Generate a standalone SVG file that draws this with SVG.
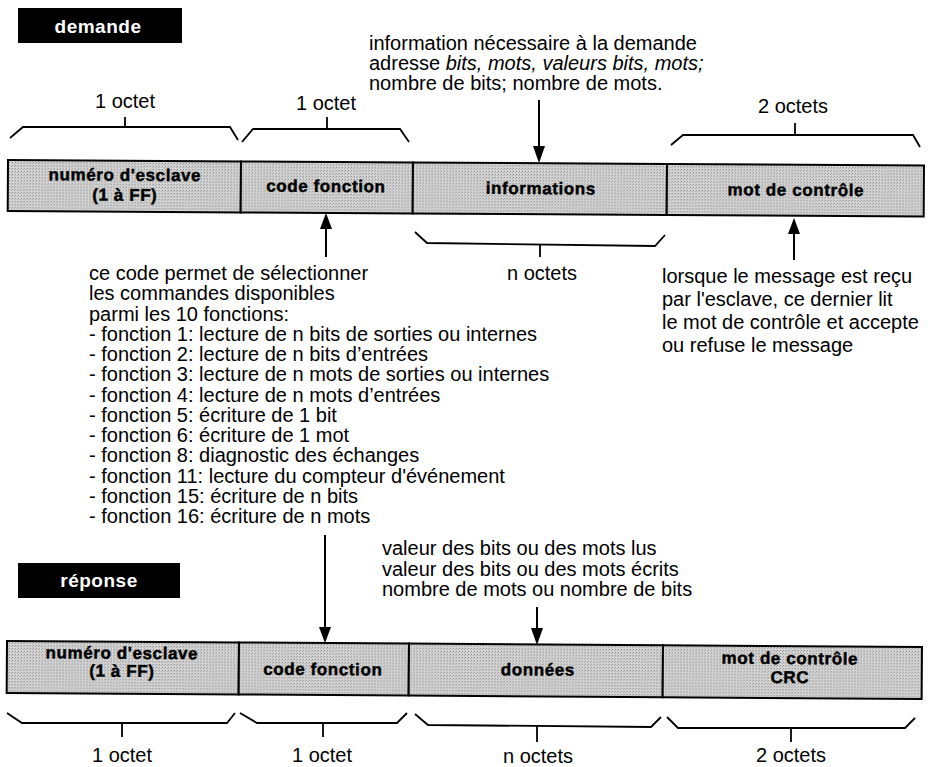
<svg xmlns="http://www.w3.org/2000/svg" width="928" height="767" viewBox="0 0 928 767">
<defs>
<pattern id="ht" width="3" height="3" patternUnits="userSpaceOnUse">
<rect width="3" height="3" fill="#d4d4d4"/>
<rect x="0" y="0" width="1" height="1" fill="#8a8a8a"/>
<rect x="2" y="1" width="1" height="1" fill="#a8a8a8"/>
</pattern>
</defs>
<style>
text{font-family:"Liberation Sans",Arial,sans-serif;fill:#000}
.t{font-size:20px}
.b{font-size:17px;font-weight:bold;letter-spacing:0.6px;stroke:#000;stroke-width:0.45px}
.hd{font-size:19px;font-weight:bold;fill:#fff;letter-spacing:0.5px}
.cell{fill:url(#ht);stroke:#000;stroke-width:2}
.br{fill:none;stroke:#000;stroke-width:1.8;stroke-linejoin:miter}
.ln{stroke:#000;stroke-width:2}
</style>
<rect width="928" height="767" fill="#fff"/>

<g id="label-demande">
<rect x="18" y="8" width="164" height="35" fill="#000"/>
<text class="hd" x="98" y="33" text-anchor="middle">demande</text>
</g>

<g id="note-information">
<text class="t" x="369" y="50">information nécessaire à la demande
<tspan x="369" dy="20">adresse <tspan font-style="italic">bits, mots, valeurs bits, mots;</tspan></tspan>
<tspan x="369" dy="20">nombre de bits; nombre de mots.</tspan></text>
</g>

<g id="size-labels-top">
<text class="t" x="125" y="108" text-anchor="middle">1 octet</text>
<text class="t" x="326" y="110" text-anchor="middle">1 octet</text>
<text class="t" x="793" y="113" text-anchor="middle">2 octets</text>
<text class="t" x="542" y="280" text-anchor="middle">n octets</text>
</g>

<g id="frame-demande" transform="rotate(0.34 8 160)">
<g id="cell-esclave-d"><rect class="cell" x="8" y="160" width="233" height="51"/>
<text class="b" x="125" y="180" text-anchor="middle">numéro d'esclave</text>
<text class="b" x="125" y="200" text-anchor="middle">(1 à FF)</text></g>
<g id="cell-code-d"><rect class="cell" x="241" y="160" width="172" height="51"/>
<text class="b" x="326" y="190" text-anchor="middle">code fonction</text></g>
<g id="cell-info-d"><rect class="cell" x="413" y="160" width="254" height="51"/>
<text class="b" x="541" y="191" text-anchor="middle">informations</text></g>
<g id="cell-crc-d"><rect class="cell" x="667" y="160" width="257" height="51"/>
<text class="b" x="796" y="191" text-anchor="middle">mot de contrôle</text></g>
</g>

<g id="note-fonctions">
<text class="t" x="89" y="280">ce code permet de sélectionner
<tspan x="89" dy="20.25">les commandes disponibles</tspan>
<tspan x="89" dy="20.25">parmi les 10 fonctions:</tspan>
<tspan x="89" dy="20.25">- fonction 1: lecture de n bits de sorties ou internes</tspan>
<tspan x="89" dy="20.25">- fonction 2: lecture de n bits d’entrées</tspan>
<tspan x="89" dy="20.25">- fonction 3: lecture de n mots de sorties ou internes</tspan>
<tspan x="89" dy="20.25">- fonction 4: lecture de n mots d’entrées</tspan>
<tspan x="89" dy="20.25">- fonction 5: écriture de 1 bit</tspan>
<tspan x="89" dy="20.25">- fonction 6: écriture de 1 mot</tspan>
<tspan x="89" dy="20.25">- fonction 8: diagnostic des échanges</tspan>
<tspan x="89" dy="20.25">- fonction 11: lecture du compteur d'événement</tspan>
<tspan x="89" dy="20.25">- fonction 15: écriture de n bits</tspan>
<tspan x="89" dy="20.25">- fonction 16: écriture de n mots</tspan></text>
</g>

<g id="note-controle">
<text class="t" x="662" y="283">lorsque le message est reçu
<tspan x="662" dy="23">par l'esclave, ce dernier lit</tspan>
<tspan x="662" dy="23">le mot de contrôle et accepte</tspan>
<tspan x="662" dy="23">ou refuse le message</tspan></text>
</g>

<g id="label-reponse">
<rect x="18" y="563" width="162" height="35" fill="#000"/>
<text class="hd" x="99" y="587" text-anchor="middle">réponse</text>
</g>

<g id="note-donnees">
<text class="t" x="382" y="555">valeur des bits ou des mots lus
<tspan x="382" dy="20.5">valeur des bits ou des mots écrits</tspan>
<tspan x="382" dy="20.5">nombre de mots ou nombre de bits</tspan></text>
</g>

<g id="frame-reponse" transform="rotate(0.37 7 641)">
<g id="cell-esclave-r"><rect class="cell" x="7" y="641" width="232" height="52"/>
<text class="b" x="122" y="658" text-anchor="middle">numéro d'esclave</text>
<text class="b" x="122" y="676" text-anchor="middle">(1 à FF)</text></g>
<g id="cell-code-r"><rect class="cell" x="239" y="641" width="170" height="52"/>
<text class="b" x="323" y="673" text-anchor="middle">code fonction</text></g>
<g id="cell-donnees-r"><rect class="cell" x="409" y="641" width="254" height="52"/>
<text class="b" x="538" y="672" text-anchor="middle">données</text></g>
<g id="cell-crc-r"><rect class="cell" x="663" y="641" width="259" height="52"/>
<text class="b" x="790" y="659" text-anchor="middle">mot de contrôle</text>
<text class="b" x="790" y="678" text-anchor="middle">CRC</text></g>
</g>

<g id="size-labels-bottom">
<text class="t" x="122" y="762" text-anchor="middle">1 octet</text>
<text class="t" x="322" y="762" text-anchor="middle">1 octet</text>
<text class="t" x="538" y="763" text-anchor="middle">n octets</text>
<text class="t" x="791" y="762" text-anchor="middle">2 octets</text>
</g>

<g id="connectors">
<polyline class="br" points="10,138 23,127 230,127 238,140"/>
<line class="br" x1="125" y1="127" x2="125" y2="117"/>
<polyline class="br" points="242,142 253,129 400,129 409,142"/>
<line class="br" x1="327" y1="129" x2="327" y2="117"/>
<polyline class="br" points="671,145 683,135 913,135 920,147"/>
<line class="br" x1="795" y1="135" x2="795" y2="123"/>
<polyline class="br" points="415,232 427,243 655,246 665,235"/>
<line class="br" x1="540" y1="245" x2="540" y2="257"/>
<polyline class="br" points="7,713 22,723 227,723 235,713"/>
<line class="br" x1="122" y1="723" x2="122" y2="737"/>
<polyline class="br" points="240,713 257,723 397,723 407,713"/>
<line class="br" x1="323" y1="723" x2="323" y2="737"/>
<polyline class="br" points="415,714 428,725 651,727 661,717"/>
<line class="br" x1="537" y1="726" x2="537" y2="742"/>
<polyline class="br" points="667,717 678,728 905,728 915,718"/>
<line class="br" x1="791" y1="728" x2="791" y2="742"/>
<line class="ln" x1="539" y1="100" x2="539" y2="150"/>
<polygon points="539,163 533,146 545,146"/>
<line class="ln" x1="326" y1="257" x2="326" y2="226"/>
<polygon points="326,213 320,229 332,229"/>
<line class="ln" x1="794" y1="260" x2="794" y2="231"/>
<polygon points="794,218 788,234 800,234"/>
<line class="ln" x1="325" y1="535" x2="325" y2="630"/>
<polygon points="325,643 319,627 331,627"/>
<line class="ln" x1="537" y1="607" x2="537" y2="631"/>
<polygon points="537,645 531,628 543,628"/>
</g>
</svg>
